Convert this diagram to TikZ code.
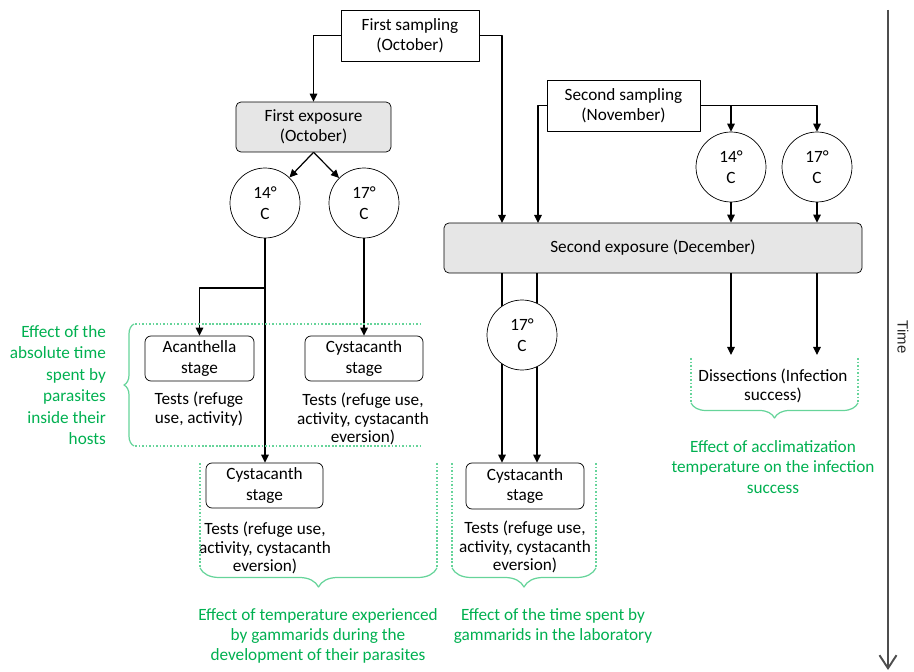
\documentclass[tikz,border=0pt]{standalone}
\usepackage{fontspec}
\setmainfont{Carlito}
\newfontfamily\timefont{Liberation Sans}
\usetikzlibrary{arrows.meta,decorations.pathreplacing}
\definecolor{effgreen}{HTML}{00B050}
\definecolor{effline}{HTML}{66D49A}
\definecolor{expfill}{HTML}{E6E6E6}
\definecolor{timegray}{HTML}{4D4D4D}
\tikzset{
  sampling/.style={draw, fill=white, align=center, inner sep=1pt},
  exposure/.style={draw, fill=expfill, rounded corners=2.8pt, align=center, inner sep=1pt},
  temp/.style={circle, draw, fill=white, align=center, minimum size=1.4cm, inner sep=0pt},
  stagebox/.style={draw, fill=white, rounded corners=3.4pt, align=center, inner sep=1pt, minimum height=0.9cm},
  tests/.style={align=center, inner sep=1pt, font=\fontsize{9.8}{10.6}\selectfont},
  effect/.style={text=effgreen, align=center, inner sep=1pt},
  dotline/.style={draw=effline, line width=0.6pt, dash pattern=on 1pt off 1pt},
  bracket/.style={draw=effline, line width=0.7pt, decorate, decoration={brace, amplitude=#1}},
  arr/.style={->, line width=0.7pt}
}
\begin{document}
\begin{tikzpicture}[x=0.02cm, y=-0.02cm, font=\fontsize{9.8}{11.6}\selectfont, line join=round, >={Triangle[length=1.6mm,width=1.5mm]}]
	\useasboundingbox (0,0) rectangle (914,672);
	% sampling and exposure
	\node[sampling, minimum width=2.76cm, minimum height=1.02cm] (fs) at (410,35.5) {First sampling\\(October)};
	\node[exposure, minimum width=3.1cm, minimum height=1.0cm] (fe) at (313.5,127) {First exposure\\(October)};
	\node[sampling, minimum width=3.06cm, minimum height=1.02cm] (ss) at (623.5,105.5) {Second sampling\\(November)};
	\node[exposure, minimum width=8.36cm, minimum height=1.0cm] (se) at (653,248) {Second exposure (December)};
	% temperatures
	\node[temp] (t14a) at (265,203) {14°\\C};
	\node[temp] (t17a) at (364,203) {17°\\C};
	\node[temp] (t14b) at (731,167) {14°\\C};
	\node[temp] (t17b) at (817,167) {17°\\C};
	% stages
	\node[stagebox, minimum width=2.18cm] (acan) at (199.5,358.5) {Acanthella\\stage};
	\node[stagebox, minimum width=2.36cm] (cyst1) at (364,358.5) {Cystacanth\\stage};
	\node[stagebox, minimum width=2.34cm] (cyst2) at (264.5,485.5) {Cystacanth\\stage};
	\node[stagebox, minimum width=2.36cm, minimum height=0.92cm] (cyst3) at (525,486) {Cystacanth\\stage};
	% tests
	\node[tests] (tacan) at (199,409) {Tests (refuge\\use, activity)};
	\node[tests] (tcyst1) at (363,419) {Tests (refuge use,\\activity, cystacanth\\eversion)};
	\node[tests] (tcyst2) at (265,548) {Tests (refuge use,\\activity, cystacanth\\eversion)};
	\node[tests] (tcyst3) at (525,547) {Tests (refuge use,\\activity, cystacanth\\eversion)};
	\node[tests] (dis) at (773,386) {Dissections (Infection\\success)};
	% connectors
	\coordinate (in1) at (502,223);
	\coordinate (in2) at (538,223);
	\coordinate (split) at (265,288);
	\coordinate (dis1) at (731,355);
	\coordinate (dis2) at (817,355);
	\draw[arr] (fs.west) -| (fe.north);
	\draw[arr] (fs.east) -| (in1);
	\draw[arr] (ss.west) -| (in2);
	\draw[arr] (ss.east) -| (t14b.north);
	\draw[arr] (ss.east) -| (t17b.north);
	\draw[arr] (t14b.south) -- (t14b.south |- se.north);
	\draw[arr] (t17b.south) -- (t17b.south |- se.north);
	\draw[arr] (fe.south) -- (t14a);
	\draw[arr] (fe.south) -- (t17a);
	\draw[arr] (t14a.south) -- (t14a.south |- cyst2.north);
	\draw[arr] (split) -| (acan.north);
	\draw[arr] (t17a.south) -- (cyst1.north);
	\draw[arr] (se.south -| in1) -- (cyst3.north -| in1);
	\draw[arr] (se.south -| 537,0) -- (cyst3.north -| 537,0);
	\draw[arr] (se.south -| dis1) -- (dis1);
	\draw[arr] (se.south -| dis2) -- (dis2);
	\node[temp] (t17m) at (522,335) {17°\\C};
	% effect groups
	\draw[dotline] (135,324) -- (420,324) (135,446) -- (420,446);
	\draw[bracket=0.2cm] (134,446) -- (134,324);
	\draw[dotline] (200,463) -- (200,568) (437,463) -- (437,568);
	\draw[bracket=0.38cm] (437,568) -- (200,568);
	\draw[dotline] (452,463) -- (452,568) (596,463) -- (596,568);
	\draw[bracket=0.38cm] (596,568) -- (452,568);
	\draw[dotline] (691,358) -- (691,403) (858,358) -- (858,403);
	\draw[bracket=0.3cm] (858,403) -- (691,403);
	\node[effect, align=right, anchor=east, font=\fontsize{9.8}{12.2}\selectfont] (eff1) at (108,385) {Effect of the\\absolute time\\spent by\\parasites\\inside their\\hosts};
	\node[effect] (eff2) at (318,636) {Effect of temperature experienced\\by gammarids during the\\development of their parasites};
	\node[effect] (eff3) at (553,626) {Effect of the time spent by\\gammarids in the laboratory};
	\node[effect] (eff4) at (773,467) {Effect of acclimatization\\temperature on the infection\\success};
	% time axis
	\coordinate (tstart) at (888,10);
	\coordinate (tend) at (888,670);
	\draw[timegray, line width=1.1pt, -{Straight Barb[length=0.26cm,width=0.34cm]}] (tstart) -- (tend);
	\node[rotate=-90, font=\timefont\fontsize{8.5}{10}\selectfont, text=black!85] (time) at (903,337) {Time};
\end{tikzpicture}
\end{document}
